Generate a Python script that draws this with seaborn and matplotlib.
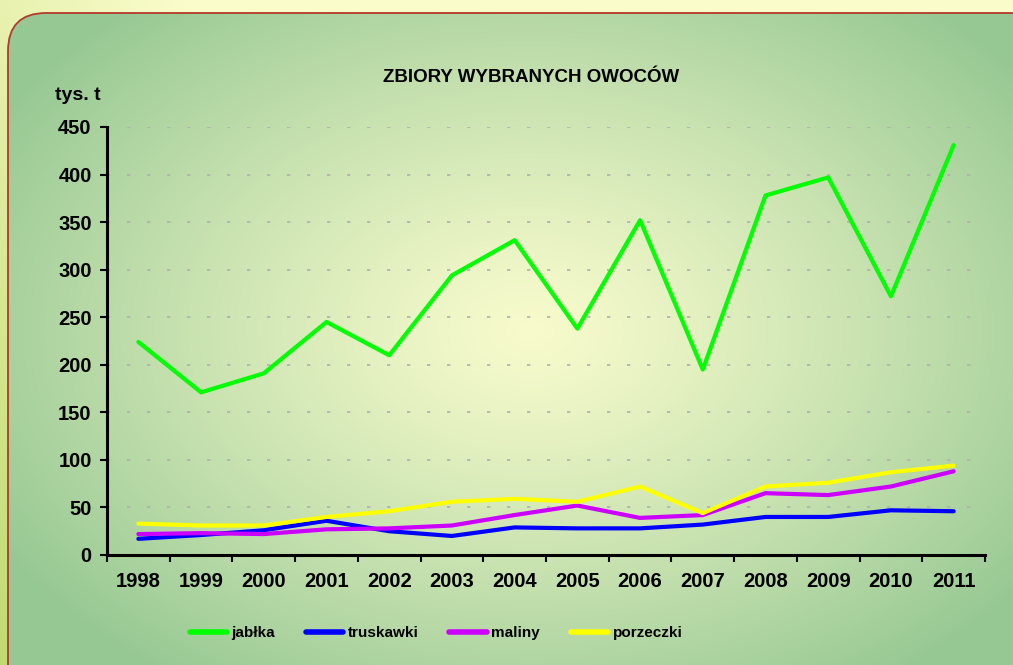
import numpy as np
import pandas as pd
import matplotlib
matplotlib.use("Agg")
import matplotlib.pyplot as plt
from matplotlib.patches import FancyBboxPatch
import seaborn as sns

# Data (tys. t)
lata = ['1998', '1999', '2000', '2001', '2002', '2003', '2004',
        '2005', '2006', '2007', '2008', '2009', '2010', '2011']
jablka = [224, 171, 191, 245, 210, 294, 331, 238, 352, 195, 378, 397, 272, 431]
truskawki = [17, 21, 26, 36, 25, 20, 29, 28, 28, 32, 40, 40, 47, 46]
maliny = [22, 23, 22, 27, 28, 31, 42, 52, 39, 42, 65, 63, 72, 88]
porzeczki = [33, 31, 31, 40, 46, 56, 59, 56, 72, 44, 72, 76, 87, 94]

serie = ['jabłka', 'truskawki', 'maliny', 'porzeczki']
kolory = ['#00ff00', '#0000ff', '#cc00ff', '#ffff00']
tytul = 'ZBIORY WYBRANYCH OWOCÓW'
jednostka = 'tys. t'

df = pd.DataFrame({'rok': lata * 4,
                   'tys': jablka + truskawki + maliny + porzeczki,
                   'owoc': [s for s in serie for _ in lata]})

sns.set_theme(style='white')
plt.rcParams['font.family'] = ['Liberation Sans', 'DejaVu Sans']
plt.rcParams['text.color'] = 'black'
plt.rcParams['xtick.color'] = 'black'
plt.rcParams['ytick.color'] = 'black'
plt.rcParams['xtick.labelcolor'] = 'black'
plt.rcParams['ytick.labelcolor'] = 'black'

W, H = 1013, 665
fig = plt.figure(figsize=(W / 100, H / 100), dpi=100)

# background: outer gradient + rounded panel with radial gradient
bg = fig.add_axes([0, 0, 1, 1])
bg.set_xlim(0, W)
bg.set_ylim(H, 0)
bg.axis('off')
yy, xx = np.mgrid[0:H, 0:W]
t = np.clip(xx / 600 + (1 - yy / H) * 0.7, 0, 1)[..., None]
c0 = np.array([0xc0, 0xda, 0x72]) / 255
c1 = np.array([0xfa, 0xfc, 0xca]) / 255
bg.imshow(c0 * (1 - t) + c1 * t, extent=(0, W, H, 0), zorder=0)

panel = FancyBboxPatch((8, 13), 1040, 700, boxstyle='round,pad=0,rounding_size=38',
                       facecolor='none', edgecolor='#b33a2a', lw=1.3, zorder=2)
bg.add_patch(panel)
d = np.sqrt(((xx - 530) / 620) ** 2 + ((yy - 330) / 430) ** 2)
d = np.clip(d, 0, 1)[..., None] ** 1.2
ci = np.array([0xf8, 0xfb, 0xcc]) / 255
ce = np.array([0x96, 0xc8, 0x93]) / 255
im = bg.imshow(ci * (1 - d) + ce * d, extent=(0, W, H, 0), zorder=1)
im.set_clip_path(panel)

# main chart
ax = fig.add_axes([107 / W, 1 - 555 / H, 878 / W, 428 / H])
ax.patch.set_alpha(0)
sns.lineplot(data=df, x='rok', y='tys', hue='owoc', palette=kolory,
             hue_order=serie, linewidth=3, ax=ax, sort=False)

ax.set_xlim(-0.5, len(lata) - 0.5)
ax.set_ylim(0, 450)
ax.set_yticks(np.arange(0, 451, 50))
ax.set_xticks(range(len(lata)))
ax.set_xticklabels(lata)
ax.set_xticks(np.arange(-0.5, len(lata), 1), minor=True)
ax.set_xlabel('')
ax.set_ylabel('')
ax.tick_params(axis='x', which='major', length=0, pad=12, labelsize=14.5)
ax.tick_params(axis='x', which='minor', length=5, width=1.5, direction='out', bottom=True)
ax.tick_params(axis='y', length=5, width=1.5, direction='out', left=True, pad=6, labelsize=14.5)
for lab in ax.get_xticklabels() + ax.get_yticklabels():
    lab.set_fontweight('bold')
for g in range(50, 451, 50):
    ax.axhline(g, color='#b0b0b0', lw=1.2, ls=(0, (2, 10)), zorder=0.5)
for s in ['top', 'right']:
    ax.spines[s].set_visible(False)
for s in ['left', 'bottom']:
    ax.spines[s].set_linewidth(2.2)
    ax.spines[s].set_color('black')

fig.text(531 / W, 1 - 77 / H, tytul, ha='center', va='center', fontsize=13.5,
         fontweight='bold')
fig.text(55 / W, 1 - 100 / H, jednostka, ha='left', va='baseline', fontsize=14,
         fontweight='bold')

handles, labels = ax.get_legend_handles_labels()
ax.get_legend().remove()
leg = fig.legend(handles, labels, loc='center', bbox_to_anchor=(436 / W, 1 - 633 / H),
                 ncol=4, frameon=False, handlelength=2.45, handletextpad=0.3,
                 columnspacing=2.0, prop={'weight': 'bold', 'size': 11})
for h in leg.legend_handles:
    h.set_linewidth(4)

fig.savefig('out.png', dpi=100)
